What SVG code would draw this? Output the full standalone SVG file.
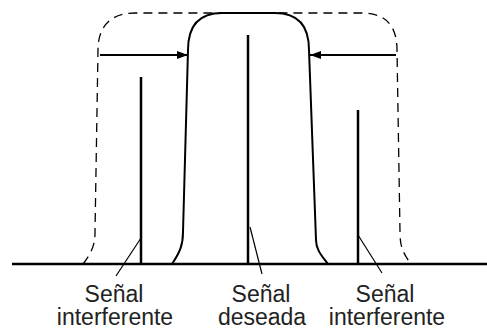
<svg xmlns="http://www.w3.org/2000/svg" width="487" height="330" viewBox="0 0 487 330">
<style>
.axis{stroke:#000;stroke-width:2.5;fill:none}
.sig{stroke:#000;stroke-width:2.5;fill:none}
.band{stroke:#000;stroke-width:2;fill:none}
.dash{stroke:#000;stroke-width:1.3;fill:none;stroke-dasharray:9,6}
.lead{stroke:#000;stroke-width:1.2;fill:none}
.arr{stroke:#000;stroke-width:2;fill:none;marker-end:url(#ah)}
text{font-family:"Liberation Sans",Arial,sans-serif;font-size:23px;fill:#222;text-anchor:middle}
</style>
<defs>
<marker id="ah" markerWidth="12" markerHeight="10" refX="11" refY="5" orient="auto" markerUnits="userSpaceOnUse">
<path d="M0,1 L11,5 L0,9 Z" fill="#000"/>
</marker>
</defs>
<g id="connectors">
<path class="dash" d="M83,264 C92,252 95,245 95,232 L98,50 C98,25 112,13 135,13 L362,13 C385,13 397,25 397,50 L400,232 C400,245 402,252 411,264"/>
<path class="band" d="M172,264 C180,252 183,245 183,232 L188,50 C188,25 200,13 222,13 L275,13 C297,13 309,25 309,50 L316,240 C316,250 322,256 328,264"/>
<line class="arr" x1="100" y1="55" x2="188" y2="55"/>
<line class="arr" x1="396" y1="55" x2="310" y2="55"/>
<line class="lead" x1="141" y1="238" x2="116" y2="276"/>
<line class="lead" x1="250" y1="227" x2="262" y2="274"/>
<line class="lead" x1="358" y1="235" x2="382" y2="273"/>
</g>
<g id="axis"><line class="axis" x1="12" y1="264" x2="487" y2="264"/></g>
<g id="signal-left"><line class="sig" x1="141" y1="77" x2="141" y2="264"/></g>
<g id="signal-center"><line class="sig" x1="248" y1="35" x2="248" y2="264"/></g>
<g id="signal-right"><line class="sig" x1="358" y1="110" x2="358" y2="264"/></g>
<g id="label-left"><text x="114" y="302">Señal</text><text x="115" y="325">interferente</text></g>
<g id="label-center"><text x="261" y="302">Señal</text><text x="262" y="325">deseada</text></g>
<g id="label-right"><text x="385" y="302">Señal</text><text x="387" y="325">interferente</text></g>
</svg>
